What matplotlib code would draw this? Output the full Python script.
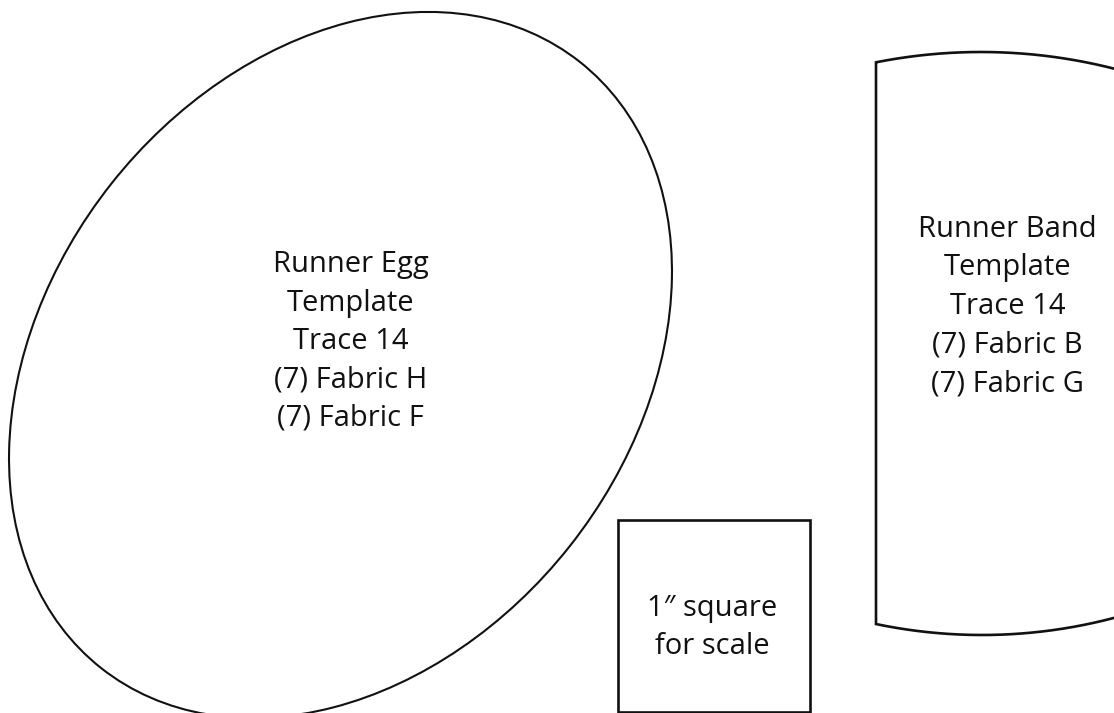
"""Quilt pattern sheet: runner egg and runner band templates with a
1 inch scale square, redrawn with matplotlib.

Run::

    python3 plot.py
"""
from __future__ import annotations

import matplotlib

matplotlib.use("Agg")

import matplotlib.pyplot as plt
import numpy as np
from matplotlib.patches import Ellipse, Rectangle

OUT_PATH = "out.png"
WIDTH_PX, HEIGHT_PX = 1114, 713
DPI = 100

# label text for each template piece
EGG_LINES = ["Runner Egg", "Template", "Trace 14", "(7) Fabric H", "(7) Fabric F"]
BAND_LINES = ["Runner Band", "Template", "Trace 14", "(7) Fabric B", "(7) Fabric G"]
SCALE_LINES = ["1\u2033 square", "for scale"]

# egg outline (page pixels): centre, semi-axes, tilt
EGG_CENTER = (340.5, 365.0)
EGG_SEMI_AXES = (386.2, 292.2)
EGG_TILT_DEG = 51.7

# band outline: left edge x, top and bottom arc circles (cx, extreme y, radius)
BAND_LEFT_X = 876.0
BAND_TOP_ARC = (981.0, 52.0, 540.0)
BAND_BOTTOM_ARC = (982.0, 635.0, 518.0)

# scale square: left, top, side
SQUARE = (618.0, 520.0, 192.0)

FONT = ["Open Sans", "DejaVu Sans"]
FONT_SIZE = 21
LINE_GAP = 38.5
INK = "#111111"


def _draw_lines(ax, lines, x, first_baseline):
    for i, line in enumerate(lines):
        ax.text(x, first_baseline + i * LINE_GAP, line, ha="center", va="baseline",
                fontsize=FONT_SIZE, family=FONT, color=INK)


def main() -> int:
    fig = plt.figure(figsize=(WIDTH_PX / DPI, HEIGHT_PX / DPI), dpi=DPI)
    ax = fig.add_axes([0, 0, 1, 1])
    ax.set_xlim(0, WIDTH_PX)
    ax.set_ylim(HEIGHT_PX, 0)
    ax.axis("off")

    # egg: y axis is flipped, so a negative angle tilts it up to the right
    ax.add_patch(Ellipse(EGG_CENTER, 2 * EGG_SEMI_AXES[0], 2 * EGG_SEMI_AXES[1],
                         angle=-EGG_TILT_DEG, fill=False, lw=1.5, ec=INK))

    # band: top arc bulges up, bottom arc bulges down, runs off the right edge
    xs = np.linspace(BAND_LEFT_X, WIDTH_PX + 20, 200)
    tcx, tpeak, tr = BAND_TOP_ARC
    bcx, blow, br = BAND_BOTTOM_ARC
    top = (tpeak + tr) - np.sqrt(tr ** 2 - (xs - tcx) ** 2)
    bottom = (blow - br) + np.sqrt(br ** 2 - (xs - bcx) ** 2)
    ax.plot(np.r_[xs[::-1], xs], np.r_[top[::-1], bottom], color=INK, lw=1.9,
            solid_joinstyle="miter")

    left, top_y, side = SQUARE
    ax.add_patch(Rectangle((left, top_y), side, side, fill=False, lw=1.9, ec=INK,
                           joinstyle="miter"))

    _draw_lines(ax, EGG_LINES, 350.5, 272)
    _draw_lines(ax, BAND_LINES, 1007.5, 237)
    _draw_lines(ax, SCALE_LINES, 712, 616)

    fig.savefig(OUT_PATH, dpi=DPI, facecolor="white")
    plt.close(fig)
    return 0


if __name__ == "__main__":
    raise SystemExit(main())
